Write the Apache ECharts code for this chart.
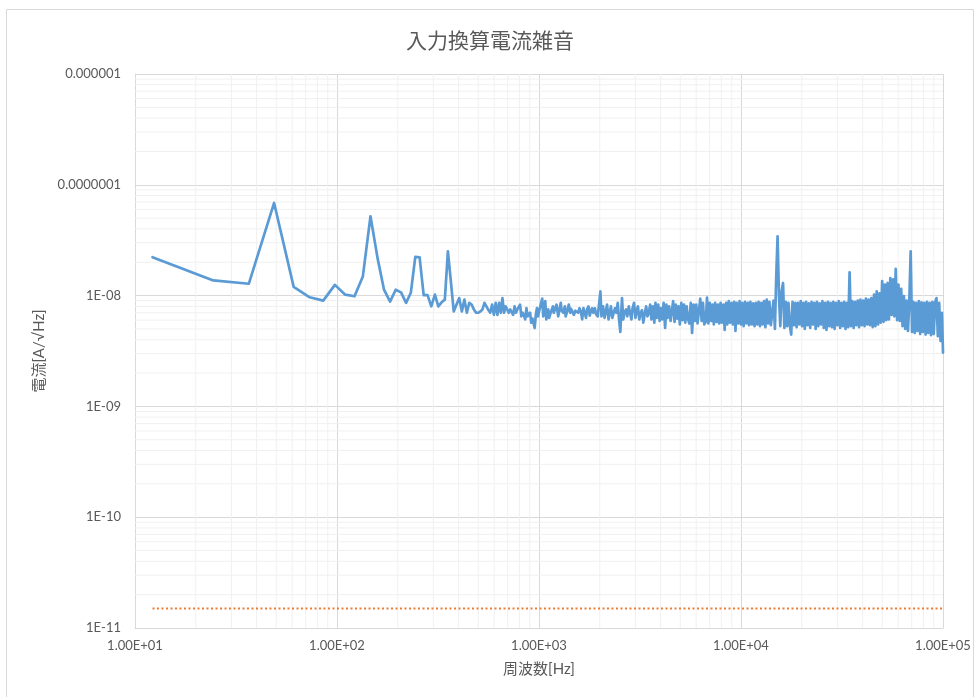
<!DOCTYPE html>
<html>
<head>
<meta charset="utf-8">
<script src="https://cdn.jsdelivr.net/npm/echarts@6/dist/echarts.min.js"></script>
<style>
html,body{margin:0;padding:0;background:#fff;}
#chart{width:980px;height:697px;}
</style>
</head>
<body>
<div id="chart"></div>
<script>
// FFT bin width (Hz): 100 kHz span / 8192 bins
const BIN_HZ = 100000 / 8192;

// Input-referred current noise, pairs of [bin index, value in 1e-9 A/√Hz]
const noiseHarmonics = [
  [1,22.2],[2,13.7],[3,12.8],[4,68.6],[5,12.0],[6,9.65],[7,9.0],[8,12.5],[9,10.2],[10,9.86],
  [11,14.9],[12,52.0],[13,21.9],[14,11.3],[15,8.83],[16,11.3],[17,10.7],[18,8.6],[19,10.6],[20,22.4],
  [21,22.2],[22,10.1],[23,10.1],[24,8.0],[25,10.2],[26,8.0],[27,8.7],[28,9.2],[29,25.1],[30,13.4]
];
const noiseLowBand = [
  [31,7.2],[32,8.3],[33,9.5],[34,7.2],[35,9.2],[36,7.0],[37,8.6],[38,8.3],[39,7.5],[40,7.0],
  [41,7.0],[42,7.2],[43,7.5],[44,8.6],[45,8.0],[46,7.4],[47,7.0],[48,8.3],[49,6.7],[50,8.6],
  [51,6.7],[52,8.6],[53,7.0],[54,9.5],[55,7.0],[56,8.0],[57,7.5],[58,7.0],[59,7.5],[60,7.2],
  [61,6.7],[62,8.0],[63,7.0],[64,7.5],[65,7.7],[66,8.3],[67,6.5],[68,7.0],[69,6.6],[70,6.1],
  [71,7.7],[72,6.5],[73,6.7],[74,7.0],[75,5.7],[76,6.2],[77,6.3],[78,5.1],[79,6.7],[80,7.7],[81,6.5]
];
const noiseDecade3a = [
  [82,7.2],[83,7.0],[85,9.4],[86,6.5],[88,8.9],[89,6.1],[91,7.5],[92,6.3],[94,7.2],[96,8.0],
  [97,7.0],[99,7.0],[100,8.3],[102,6.5],[103,6.5],[105,8.6],[106,7.3],[108,7.0],[110,8.0],[111,6.5],
  [113,7.2],[115,8.3],[117,7.0],[118,7.6],[120,7.7],[122,6.7],[124,7.3],[126,7.5],[128,7.0],[130,7.7],
  [132,7.2],[134,6.1],[136,7.7],[138,7.0],[140,6.3],[142,7.6],[144,8.0],[146,6.6],[148,7.2],[150,7.7],
  [152,7.0],[155,7.7],[157,6.8],[160,6.5],[162,8.0],[165,10.9],[167,6.5],[170,8.0],[173,6.3],[175,7.0],
  [178,8.3],[181,6.1],[184,7.2],[186,8.0],[189,6.3],[192,7.0],[195,7.7],[198,7.0],[201,8.6],[204,6.1],
  [207,4.7],[211,9.5],[214,6.1],[217,7.0],[221,7.5],[224,6.5],[228,8.0],[231,7.0],[235,6.1],[238,7.7],
  [242,8.6],[246,6.3],[250,7.5],[253,8.0],[257,6.1],[261,7.0],[265,7.4],[269,5.7],[274,7.0],[278,8.0],
  [282,6.5],[286,6.9]
];
const noiseDecade3b = [
  [291,8.3],[295,6.1],[300,8.0],[305,5.7],[309,8.6],[314,6.3],[319,8.3],[324,5.9],[329,7.7],[334,6.1],
  [339,8.6],[345,5.1],[350,8.3],[355,6.3],[361,8.0],[367,5.9],[372,6.0],[378,8.9],[384,5.8],[390,8.3],
  [396,6.2],[402,8.0],[408,5.5],[415,8.6],[421,6.0],[428,8.3],[434,5.7],[441,8.0],[448,6.1],[455,5.6],
  [462,8.6],[469,4.6],[477,8.3],[484,5.9],[492,8.3],[499,5.6],[507,5.7],[515,9.4],[523,5.9],[531,8.6],
  [539,5.5],[548,5.8],[556,9.6],[565,5.6],[574,8.6],[583,5.9],[592,8.3],[601,5.5],[610,8.6],[620,5.8],
  [630,8.3],[639,5.6],[649,8.6],[659,5.7],[670,8.3],[680,4.9],[691,8.6],[701,5.5],[712,8.9],[723,5.7],
  [735,8.6],[746,5.5],[758,8.8],[769,4.8],[781,8.6],[794,5.6],[806,8.9],[819,5.5],[831,8.6],[844,5.3],
  [858,8.8],[871,5.6],[885,8.6],[898,5.4],[912,8.8],[927,5.5],[941,8.5],[956,5.3],[971,8.6],[986,5.5],
  [1001,8.8],[1017,5.3],[1033,8.6],[1049,5.5],[1065,8.9],[1082,5.2],[1099,9.2],[1116,5.6],[1133,8.8],[1151,5.4]
];
const noiseDecade4a = [
  [1169,5.2],[1187,9.0],[1206,5.0],[1224,14.9],[1243,34.3],[1263,9.9],[1282,5.3],[1302,11.0],[1323,13.0],[1343,5.1],
  [1364,8.8],[1386,5.3],[1407,8.6],[1429,5.4],[1452,4.45],[1474,8.8],[1497,5.4],[1521,8.6],[1544,5.2],[1568,8.6],
  [1593,5.5],[1618,8.9],[1643,5.3],[1669,8.6],[1695,5.0],[1721,8.8],[1748,5.4],[1775,8.5],[1803,5.1],[1831,8.8],
  [1860,5.5],[1889,8.6],[1918,5.0],[1948,8.8],[1978,5.3],[2009,8.5],[2041,5.5],[2072,8.9],[2105,5.1],[2138,8.6],
  [2171,4.9],[2205,8.8],[2239,5.3],[2274,8.6],[2310,5.2],[2346,8.8],[2382,5.0],[2419,8.6],[2457,5.4],[2496,8.9],
  [2535,5.1],[2574,8.6],[2614,5.3],[2655,8.8],[2697,5.0],[2739,8.6],[2781,5.2],[2825,16.2],[2869,5.3],[2913,8.9],
  [2959,5.1],[3005,8.8],[3052,5.4],[3099,9.0],[3148,5.2],[3197,9.2],[3247,5.4],[3297,9.0],[3349,5.3],[3401,9.4],
  [3454,5.5],[3508,9.2],[3563,5.4]
];
const noiseDecade4b = [
  [3618,9.5],[3675,5.2],[3732,10.2],[3790,5.3],[3849,10.9],[3909,5.5],[3970,10.5],[4032,5.7],[4095,13.5],[4159,5.8],
  [4224,12.6],[4290,6.0],[4356,13.0],[4424,6.1],[4493,14.4],[4563,6.7],[4635,14.0],[4707,6.5],[4780,17.4],[4855,6.0],
  [4931,12.6],[5008,5.9],[5086,11.5],[5165,5.3],[5245,9.9],[5327,5.0],[5410,9.0],[5495,4.8],[5580,8.9],[5667,25.1],
  [5756,4.7],[5845,8.8],[5937,4.6],[6029,8.6],[6123,4.8],[6219,8.9],[6316,4.5],[6414,8.7],[6514,4.7],[6616,8.6],
  [6719,4.45],[6824,8.8],[6930,4.6],[7038,8.6],[7148,4.4],[7260,8.8],[7373,4.5],[7488,8.7],[7605,9.5],[7723,4.3],
  [7844,8.6],[7966,3.9],[8090,7.0],[8192,3.06]
];
// Second series (orange dotted), [bin index, value in 1e-9 A/√Hz]
const floorNoise = [[1,0.015],[8192,0.015]];

// Axis decades and their tick label text
const xDecades = [1, 2, 3, 4, 5];
const xTickLabels = ['1.00E+01','1.00E+02','1.00E+03','1.00E+04','1.00E+05'];
const yDecades = [-11, -10, -9, -8, -7, -6];
const yTickLabels = ['1E-11','1E-10','1E-09','1E-08','0.0000001','0.000001'];
const minorMultipliers = [2,3,4,5,6,7,8,9];

const toPoint = ([k, v]) => [k * BIN_HZ, v * 1e-9];
const blueData = [].concat(noiseHarmonics, noiseLowBand, noiseDecade3a, noiseDecade3b, noiseDecade4a, noiseDecade4b).map(toPoint);
const orangeData = floorNoise.map(toPoint);

const xMin = Math.pow(10, xDecades[0]), xMax = Math.pow(10, xDecades[xDecades.length-1]);
const yMin = Math.pow(10, yDecades[0]), yMax = Math.pow(10, yDecades[yDecades.length-1]);

// minor gridlines as broken line segments
const minorGrid = [];
xDecades.slice(0, -1).forEach(d => minorMultipliers.forEach(m => {
  const x = m * Math.pow(10, d);
  minorGrid.push([x, yMin], [x, yMax], [x, '-']);
}));
yDecades.slice(0, -1).forEach(d => minorMultipliers.forEach(m => {
  const y = m * Math.pow(10, d);
  minorGrid.push([xMin, y], [xMax, y], [xMin, '-']);
}));

const labelFont = 'Lato, "Noto Sans", sans-serif';
const cjkFont = '"Noto Sans CJK JP", "Noto Sans", sans-serif';
const nameFont = 'Lato, "Noto Sans CJK JP", sans-serif';

const chart = echarts.init(document.getElementById('chart'), null, {renderer: 'canvas'});
chart.setOption({
  animation: false,
  backgroundColor: '#ffffff',
  graphic: [{
    type: 'rect', silent: true, z: -10,
    shape: {x: 6.5, y: 9.5, width: 967, height: 720},
    style: {fill: 'none', stroke: '#D9D9D9', lineWidth: 1}
  }],
  title: {
    text: '入力換算電流雑音',
    left: 'center', top: 25,
    textStyle: {fontSize: 21, fontWeight: 'normal', color: '#595959', fontFamily: cjkFont}
  },
  grid: {left: 135, right: 37, top: 74, bottom: 69, containLabel: false},
  xAxis: {
    type: 'log', logBase: 10, min: xMin, max: xMax,
    name: '周波数[Hz]', nameLocation: 'middle', nameGap: 34,
    nameTextStyle: {fontSize: 15, color: '#595959', fontFamily: nameFont},
    axisLine: {show: true, lineStyle: {color: '#D9D9D9'}},
    axisTick: {show: false},
    splitLine: {show: true, lineStyle: {color: '#D9D9D9', width: 1}},
    axisLabel: {
      color: '#595959', fontSize: 13, fontFamily: labelFont, margin: 11,
      formatter: v => {
        const i = xDecades.indexOf(Math.round(Math.log10(v)));
        return i >= 0 ? xTickLabels[i] : '';
      }
    }
  },
  yAxis: {
    type: 'log', logBase: 10, min: yMin, max: yMax,
    name: '電流[A/√Hz]', nameLocation: 'middle', nameGap: 86,
    nameTextStyle: {fontSize: 15, color: '#595959', fontFamily: nameFont},
    axisLine: {show: true, lineStyle: {color: '#D9D9D9'}},
    axisTick: {show: false},
    splitLine: {show: true, lineStyle: {color: '#D9D9D9', width: 1}},
    axisLabel: {
      color: '#595959', fontSize: 13, fontFamily: labelFont, margin: 14,
      formatter: v => {
        const i = yDecades.indexOf(Math.round(Math.log10(v)));
        return i >= 0 ? yTickLabels[i] : '';
      }
    }
  },
  series: [
    {
      name: 'minor grid', type: 'line', data: minorGrid, z: 1, silent: true,
      symbol: 'none', connectNulls: false,
      lineStyle: {color: '#F0F0F0', width: 1}
    },
    {
      name: '電流雑音', type: 'line', data: blueData, z: 5,
      symbol: 'none', sampling: null,
      lineStyle: {color: '#5B9BD5', width: 2.7, join: 'round', cap: 'round'}
    },
    {
      name: 'floor', type: 'line', data: orangeData, z: 4,
      symbol: 'none',
      lineStyle: {color: '#ED7D31', width: 2, type: [2, 2.5]}
    }
  ]
});
</script>
</body>
</html>
